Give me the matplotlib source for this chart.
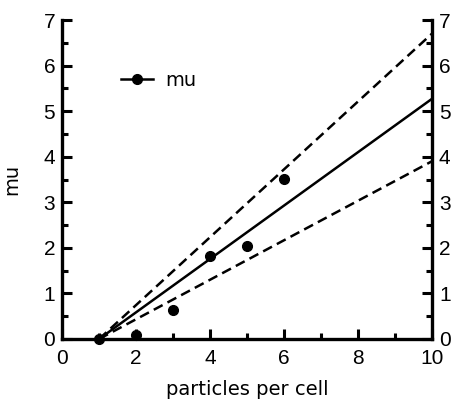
import matplotlib
matplotlib.use("Agg")
import matplotlib.pyplot as plt
import numpy as np
from matplotlib.ticker import MultipleLocator

particles = [1, 2, 3, 4, 5, 6]
mu = [0.0, 0.08, 0.63, 1.83, 2.05, 3.52]

fit_x = [1, 10]
fit_mid = [0.0, 5.27]
fit_hi = [0.0, 6.7]
fit_lo = [0.0, 3.9]

fig = plt.figure(figsize=(4.6, 4.0), dpi=100)
ax = fig.add_axes([0.135, 0.1525, 0.804, 0.7975])

ax.plot(fit_x, fit_mid, color='black', lw=1.8)
ax.plot(fit_x, fit_hi, color='black', lw=1.8, ls=(0, (4, 2.2)))
ax.plot(fit_x, fit_lo, color='black', lw=1.8, ls=(0, (4, 2.2)))
ax.plot(particles, mu, 'o', color='black', ms=7, clip_on=False, zorder=5)

# legend
ax.plot([1.6, 2.45], [5.7, 5.7], color='black', lw=1.8)
ax.plot([2.03], [5.7], 'o', color='black', ms=7)
ax.text(2.8, 5.68, 'mu', fontsize=14, va='center', ha='left', family='DejaVu Sans')

ax.set_xlim(0, 10)
ax.set_ylim(0, 7)
ax.xaxis.set_major_locator(MultipleLocator(2))
ax.xaxis.set_minor_locator(MultipleLocator(1))
ax.yaxis.set_major_locator(MultipleLocator(1))
ax.yaxis.set_minor_locator(MultipleLocator(0.5))

for s in ['left', 'right', 'bottom']:
    ax.spines[s].set_linewidth(2.4)
ax.spines['top'].set_visible(False)

ax.tick_params(which='both', direction='in', width=2.2, right=True, labelright=True, top=False,
               labelsize=15)
ax.tick_params(axis='x', which='both', pad=7)
ax.tick_params(axis='y', which='both', pad=5)
ax.tick_params(which='major', length=7)
ax.tick_params(which='minor', length=4.5)
for lbl in ax.get_xticklabels() + ax.get_yticklabels():
    lbl.set_family('Liberation Sans')

ax.set_xlabel('particles per cell', fontsize=14, labelpad=9)
ax.set_ylabel('mu', fontsize=14, labelpad=16)

fig.savefig('out.png', dpi=100)
